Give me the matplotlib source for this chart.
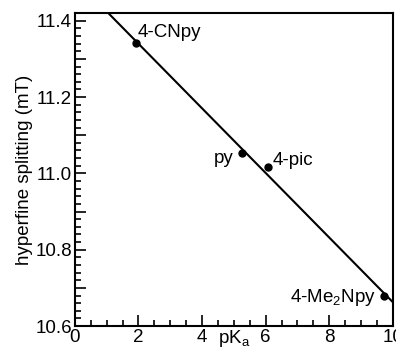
import matplotlib
matplotlib.use('Agg')
import matplotlib.pyplot as plt
from matplotlib.ticker import MultipleLocator, FuncFormatter
import numpy as np

plt.rcParams['font.family'] = ['Liberation Sans', 'DejaVu Sans']
plt.rcParams['mathtext.fontset'] = 'custom'
plt.rcParams['mathtext.rm'] = 'Liberation Sans'
plt.rcParams['mathtext.it'] = 'Liberation Sans'

# pKa of the pyridine ligand vs. hyperfine splitting
ligands = ['4-CNpy', 'py', '4-pic', r'4-Me$_\mathrm{2}$Npy']
pka = [1.92, 5.27, 6.06, 9.72]
splitting = [11.342, 11.053, 11.018, 10.679]

# label anchor positions (data coords) and alignment
label_x = [1.96, 4.98, 6.21, 9.46]
label_y = [11.368, 11.040, 11.034, 10.674]
label_ha = ['left', 'right', 'left', 'right']

fig = plt.figure(figsize=(3.96, 3.54), dpi=100)
ax = fig.add_axes([0.189, 0.079, 0.803, 0.884])

slope, intercept = np.polyfit(pka, splitting, 1)
xfit = np.array([0, 10.5])
ax.plot(xfit, intercept + slope * xfit, color='black', lw=1.5)
ax.plot(pka, splitting, 'o', color='black', ms=5)

for name, x, y, ha in zip(ligands, label_x, label_y, label_ha):
    ax.text(x, y, name, ha=ha, va='center', fontsize=13.5)

ax.set_xlim(0, 10)
ax.set_ylim(10.6, 11.42)

ax.xaxis.set_major_locator(MultipleLocator(2))
ax.xaxis.set_minor_locator(MultipleLocator(0.5))
ax.yaxis.set_major_locator(MultipleLocator(0.1))
ax.yaxis.set_minor_locator(MultipleLocator(0.02))
ax.yaxis.set_major_formatter(FuncFormatter(
    lambda v, p: f'{v:.1f}' if round(v * 10) % 2 == 0 else ''))

ax.tick_params(which='both', direction='in', top=False, right=False,
               labelsize=13.5, width=1.2, pad=2)
ax.tick_params(which='major', length=8)
ax.tick_params(which='minor', length=4)
for s in ax.spines.values():
    s.set_linewidth(1.5)

ax.set_xlabel(r'pK$_\mathrm{a}$', fontsize=13.5, labelpad=-13)
ax.set_ylabel('hyperfine splitting (mT)', fontsize=13.5, labelpad=2)

fig.savefig('out.png', dpi=100)
